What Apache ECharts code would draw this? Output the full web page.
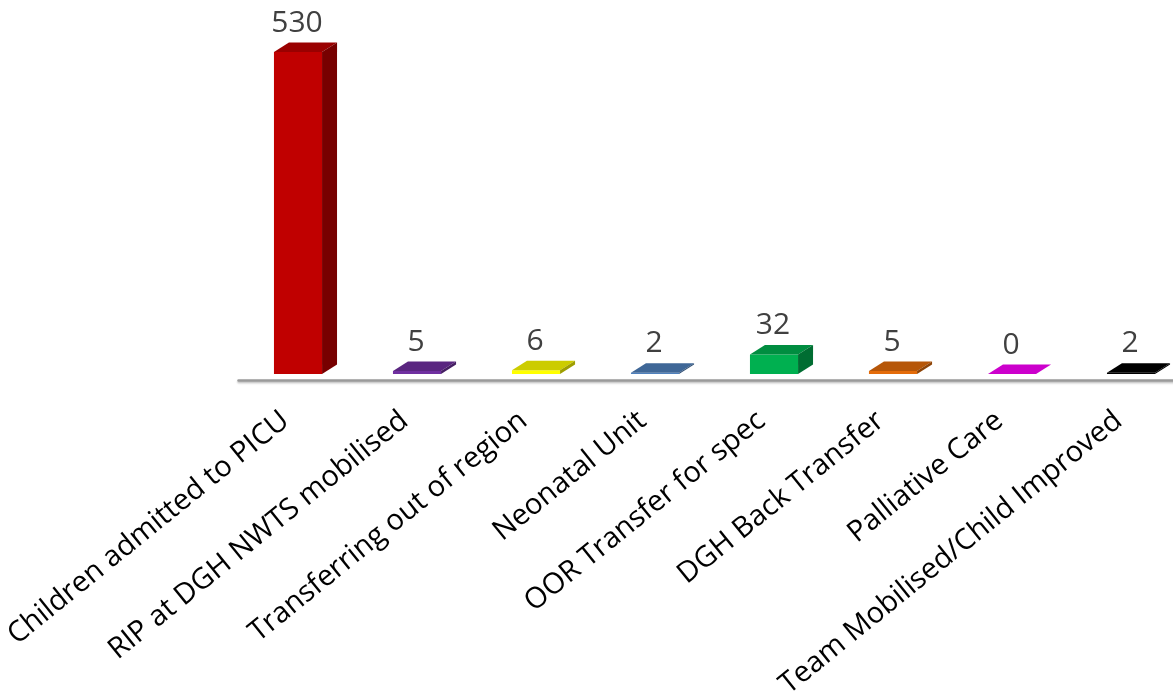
<!DOCTYPE html>
<html>
<head>
<meta charset="utf-8">
<script src="https://cdn.jsdelivr.net/npm/echarts@6/dist/echarts.min.js"></script>
<style>
html,body{margin:0;padding:0;background:#fff;}
#chart{width:1173px;height:698px;}
</style>
</head>
<body>
<div id="chart"></div>
<script>
const categories = [
  'Children admitted to PICU',
  'RIP at DGH NWTS mobilised',
  'Transferring out of region',
  'Neonatal Unit',
  'OOR Transfer for spec',
  'DGH Back Transfer',
  'Palliative Care',
  'Team Mobilised/Child Improved'
];
const values = [530, 5, 6, 2, 32, 5, 0, 2];
const frontColors = ['#C00000', '#7030A0', '#FFFF00', '#4F81BD', '#00B050', '#E46C0A', '#FF00FF', '#000000'];

function shade(hex, f) {
  const n = parseInt(hex.slice(1), 16);
  const r = Math.round(((n >> 16) & 255) * f);
  const g = Math.round(((n >> 8) & 255) * f);
  const b = Math.round((n & 255) * f);
  return 'rgb(' + r + ',' + g + ',' + b + ')';
}

const chart = echarts.init(document.getElementById('chart'), null, {renderer: 'canvas'});

function renderItem(params, api) {
  const i = api.value(0);
  const v = api.value(1);
  const base = api.coord([i, 0]);
  const top = api.coord([i, v]);
  const band = api.size([1, 0])[0];
  const w = band * 0.404;
  const dx = band * 0.126;
  const dy = 9.5;
  const lift = 6; // 3D floor sits slightly above the axis line
  const x0 = base[0] - w / 2, x1 = base[0] + w / 2;
  const yb = base[1] - lift, yt = top[1] - lift;
  const c = frontColors[i];
  return {
    type: 'group',
    children: [
      {type: 'rect', shape: {x: x0, y: yt, width: w, height: Math.max(yb - yt, 0)}, style: {fill: c}},
      {type: 'polygon', shape: {points: [[x0, yt], [x1, yt], [x1 + dx, yt - dy], [x0 + dx, yt - dy]]}, style: {fill: shade(c, 0.8)}},
      {type: 'polygon', shape: {points: [[x1, yt], [x1 + dx, yt - dy], [x1 + dx, yb - dy], [x1, yb]]}, style: {fill: shade(c, 0.62)}},
      {type: 'text', style: {x: base[0] - 1, y: yt - 29, text: String(v), align: 'center', verticalAlign: 'middle',
        fill: '#404040', font: '30px "Open Sans"'}}
    ]
  };
}

chart.setOption({
  animation: false,
  backgroundColor: '#ffffff',
  grid: {left: 238.5, right: -17.5, top: 58, bottom: 318, containLabel: false, outerBoundsMode: 'none'},
  xAxis: {
    type: 'category',
    data: categories,
    axisTick: {show: false},
    axisLine: {show: true, lineStyle: {color: '#9a9a9a', width: 2.5, shadowColor: 'rgba(0,0,0,0.25)', shadowBlur: 2, shadowOffsetY: 1.5}},
    axisLabel: {
      interval: 0, rotate: 39, margin: 27, padding: [0, 16, 0, 0],
      fontFamily: 'Open Sans', fontSize: 29, color: '#000000'
    }
  },
  yAxis: {
    type: 'value', min: 0, max: 530, show: false,
    splitLine: {show: false}
  },
  series: [{
    type: 'custom',
    renderItem: renderItem,
    data: values.map((v, i) => [i, v]),
    clip: false
  }]
});
</script>
</body>
</html>
